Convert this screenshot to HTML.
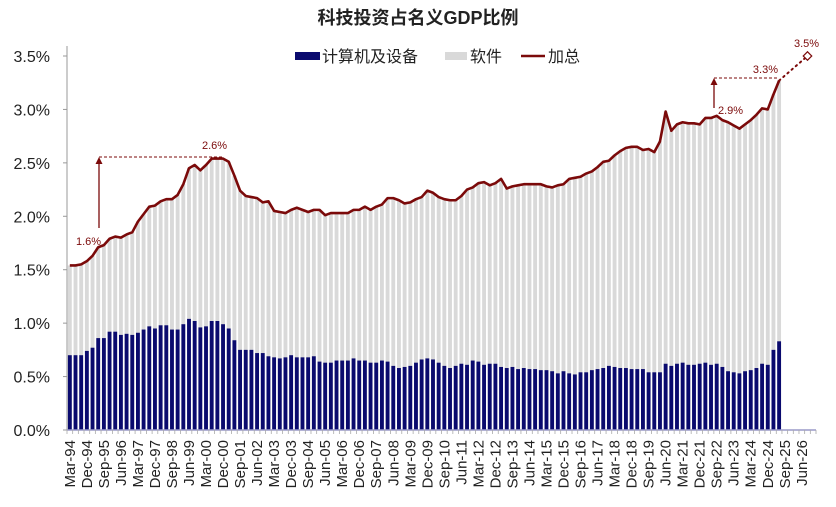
<!DOCTYPE html>
<html><head><meta charset="utf-8"><style>
html,body{margin:0;padding:0;background:#fff;}
svg{display:block;font-family:"Liberation Sans","Noto Sans CJK SC",sans-serif;}
</style></head><body>
<svg id="chart" width="836" height="507" viewBox="0 0 836 507">
<text x="418" y="24" text-anchor="middle" font-size="18" font-weight="bold" fill="#222">科技投资占名义GDP比例</text>
<g>
<g><rect x="295" y="52" width="25" height="8" fill="#0a0a6e"/><text x="322" y="62" font-size="16" fill="#222">计算机及设备</text></g>
<g><rect x="445" y="52" width="22" height="8" fill="#d9d9d9"/><text x="470" y="62" font-size="16" fill="#222">软件</text></g>
<g><line x1="521" y1="56" x2="545" y2="56" stroke="#7b0a0a" stroke-width="2.5"/><text x="548" y="62" font-size="16" fill="#222">加总</text></g>
</g>
<g id="yaxis"></g>
<g id="bars"></g>
<g id="xaxis"></g>
<g id="lines"></g>
<g id="annot"></g>
</svg>
<script>
const startYear = 1994;
const hardware = [
.70,.70,.70,.74, .77,.86,.86,.92, .92,.89,.90,.89, .91,.94,.97,.95, .98,.98,.94,.94,
.99,1.04,1.02,.96, .97,1.02,1.02,.99, .95,.84,.75,.75, .75,.72,.72,.69, .68,.67,.68,.70,
.68,.68,.68,.69, .64,.63,.63,.65, .65,.65,.67,.65, .65,.63,.63,.65, .64,.60,.58,.59,
.60,.63,.66,.67, .66,.63,.60,.58, .60,.62,.61,.65, .64,.61,.62,.62, .59,.58,.59,.57,
.58,.57,.57,.56, .56,.55,.53,.55, .53,.52,.54,.54, .56,.57,.58,.60, .59,.58,.58,.57,
.57,.57,.54,.54, .54,.62,.60,.62, .63,.61,.61,.62, .63,.61,.62,.59, .55,.54,.53,.55,
.56,.58,.62,.61, .75,.83];
const total = [
1.54,1.54,1.55,1.58, 1.63,1.71,1.73,1.79, 1.81,1.80,1.83,1.85, 1.95,2.02,2.09,2.10, 2.14,2.16,2.16,2.20,
2.30,2.45,2.48,2.43, 2.48,2.54,2.54,2.54, 2.51,2.38,2.24,2.19, 2.18,2.17,2.13,2.14, 2.05,2.04,2.03,2.06,
2.08,2.06,2.04,2.06, 2.06,2.01,2.03,2.03, 2.03,2.03,2.06,2.06, 2.09,2.06,2.09,2.11, 2.17,2.17,2.15,2.12,
2.13,2.16,2.18,2.24, 2.22,2.18,2.16,2.15, 2.15,2.19,2.25,2.27, 2.31,2.32,2.29,2.31, 2.35,2.26,2.28,2.29,
2.30,2.30,2.30,2.30, 2.28,2.27,2.29,2.30, 2.35,2.36,2.37,2.40, 2.42,2.46,2.51,2.52, 2.57,2.61,2.64,2.65,
2.65,2.62,2.63,2.60, 2.70,2.98,2.80,2.86, 2.88,2.87,2.87,2.86, 2.92,2.92,2.94,2.90, 2.88,2.85,2.82,2.86,
2.90,2.95,3.01,3.00, 3.14,3.27];
const forecast = [3.27, 3.5];
const yTicks = [0,0.5,1.0,1.5,2.0,2.5,3.0,3.5];
const qNames = ["Mar","Jun","Sep","Dec"];
const nSlots = 132;

const NS="http://www.w3.org/2000/svg";
const X0=67, X1=816, Y0=430, YT=56, YMAX=3.5;
const slot=(X1-X0)/nSlots;
const xc=i=>X0+(i+0.5)*slot;
const y=v=>Y0-(v/YMAX)*(Y0-YT);
function mk(tag,attrs,parent){const e=document.createElementNS(NS,tag);for(const k in attrs)e.setAttribute(k,attrs[k]);parent.appendChild(e);return e;}

const ya=document.getElementById('yaxis');
mk('line',{x1:X0,y1:YT-10,x2:X0,y2:Y0,stroke:'#999','stroke-width':1},ya);
yTicks.forEach(t=>{
  mk('line',{x1:X0-4,y1:y(t),x2:X0,y2:y(t),stroke:'#999'},ya);
  const tx=mk('text',{x:50,y:y(t)+6,'text-anchor':'end','font-size':16,fill:'#222'},ya);
  tx.textContent=t.toFixed(1)+'%';
  
  
});

const bg=document.getElementById('bars');
const bw=slot*0.68;
total.forEach((v,i)=>{
  const r=mk('rect',{x:xc(i)-bw/2,y:y(v),width:bw,height:Y0-y(v),fill:'#d9d9d9'},bg);
  
  
});
hardware.forEach((v,i)=>{
  const r=mk('rect',{x:xc(i)-bw/2,y:y(v),width:bw,height:Y0-y(v),fill:'#0a0a6e'},bg);
  
  
});

const xa=document.getElementById('xaxis');
mk('line',{x1:X0,y1:Y0,x2:X1,y2:Y0,stroke:'#9a9ac8','stroke-width':1.5},xa);
for(let i=0;i<=nSlots;i++){mk('line',{x1:X0+i*slot,y1:Y0,x2:X0+i*slot,y2:Y0+4,stroke:'#aaa','stroke-width':0.8},xa);}
for(let i=0;i<nSlots;i+=3){
  const yr=startYear+Math.floor(i/4);
  const lbl=qNames[i%4]+'-'+String(yr%100).padStart(2,'0');
  const cx=xc(i)+5;
  const tx=mk('text',{x:cx,y:440,'text-anchor':'end','font-size':15,fill:'#222',transform:`rotate(-90 ${cx} 440)`},xa);
  tx.textContent=lbl;
  
  
}

const lg=document.getElementById('lines');
const pl=mk('polyline',{points:total.map((v,i)=>xc(i)+','+y(v)).join(' '),fill:'none',stroke:'#7b0a0a','stroke-width':2.6,'stroke-linejoin':'round'},lg);


const li=total.length-1;
const fx=xc(li+5);
const fl=mk('line',{x1:xc(li),y1:y(forecast[0]),x2:fx,y2:y(forecast[1]),stroke:'#7b0a0a','stroke-width':2,'stroke-dasharray':'1.5 4','stroke-linecap':'round'},lg);


const dm=mk('rect',{x:fx-3,y:y(forecast[1])-3,width:6,height:6,fill:'#fff',stroke:'#7b0a0a','stroke-width':1.2,transform:`rotate(45 ${fx} ${y(forecast[1])})`},lg);



const an=document.getElementById('annot');
function arrow(x,y1,y2){mk('line',{x1:x,y1:y1,x2:x,y2:y2+6,stroke:'#7b0a0a','stroke-width':1.3},an);mk('polygon',{points:`${x-3.5},${y2+7} ${x+3.5},${y2+7} ${x},${y2}`,fill:'#7b0a0a'},an);}
function lab(x,yy,t,anc){const e=mk('text',{x:x,y:yy,'font-size':11,fill:'#7b0a0a','text-anchor':anc||'start'},an);e.textContent=t;return e;}
arrow(99,228,157);
mk('line',{x1:99,y1:157,x2:224,y2:157,stroke:'#7b0a0a','stroke-width':1,'stroke-dasharray':'3 2'},an);
lab(76,245,'1.6%');
lab(202,149,'2.6%');
arrow(714,108,78);
mk('line',{x1:714,y1:78,x2:779,y2:78,stroke:'#7b0a0a','stroke-width':1,'stroke-dasharray':'3 2'},an);
lab(718,114,'2.9%');
lab(778,73,'3.3%','end');
lab(794,47,'3.5%');
</script>
</body></html>
